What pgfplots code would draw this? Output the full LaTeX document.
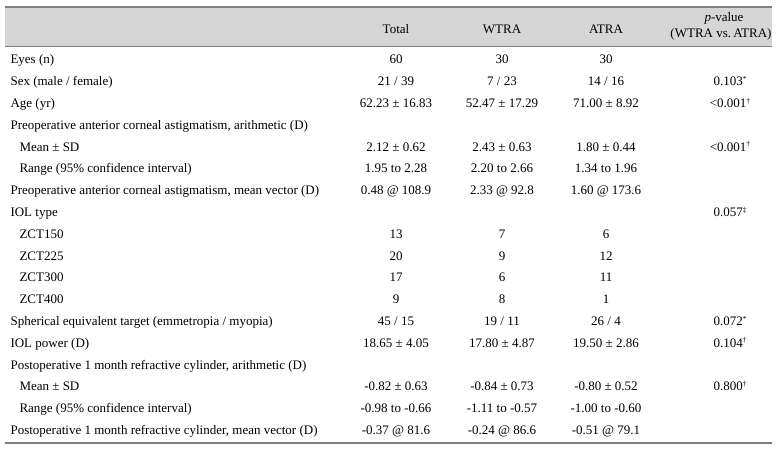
\documentclass[border=0pt]{standalone}
\usepackage{fontspec}
\setmainfont{Liberation Serif}
\usepackage{pgfplots}
\pgfplotsset{compat=1.18}
\definecolor{band}{HTML}{D6D6D6}
\definecolor{rule}{HTML}{808080}
\definecolor{ink}{HTML}{231F20}
\newcommand{\supmark}[1]{\raisebox{0.75ex}{\fontsize{7.5bp}{8bp}\selectfont #1}}
\newcommand{\sa}{\supmark{*}}
\newcommand{\sd}{\supmark{†}}
\newcommand{\sdd}{\supmark{‡}}
\begin{document}
\fontsize{13bp}{15bp}\selectfont
\begin{tikzpicture}[font=\fontsize{13bp}{15bp}\selectfont]
\begin{axis}[width=779bp, height=450bp, scale only axis,
  xmin=0, xmax=779, ymin=0, ymax=450, y dir=reverse,
  axis lines=none, ticks=none, clip=false,
  every node/.append style={inner sep=0pt, text=ink}]
\addplot[draw=none] coordinates {(0,0) (779,450)};
\addplot[draw=none, fill=band] coordinates {(5,7) (772,7) (772,47) (5,47)} -- cycle;
\addplot[rule, line width=1.4bp] coordinates {(5,7) (772,7)};
\addplot[rule, line width=1bp] coordinates {(5,47) (772,47)};
\addplot[rule, line width=1.4bp] coordinates {(5,443) (772,443)};
% header
\node[anchor=base] at (axis cs:396,33.5) {Total};
\node[anchor=base] at (axis cs:502,33.5) {WTRA};
\node[anchor=base] at (axis cs:606,33.5) {ATRA};
\node[anchor=base] at (axis cs:724,22) {\textit{p}-value};
\node[anchor=base] at (axis cs:721,38) {(WTRA vs.\,ATRA)};
% left column
\node[anchor=base west] at (axis cs:6,64) {Eyes (n)};
\node[anchor=base west] at (axis cs:6,85.8) {Sex (male / female)};
\node[anchor=base west] at (axis cs:6,107.6) {Age (yr)};
\node[anchor=base west] at (axis cs:6,129.4) {Preoperative anterior corneal astigmatism, arithmetic (D)};
\node[anchor=base west] at (axis cs:15,151.2) {Mean ± SD};
\node[anchor=base west] at (axis cs:15,173) {Range (95\% confidence interval)};
\node[anchor=base west] at (axis cs:6,194.8) {Preoperative anterior corneal astigmatism, mean vector (D)};
\node[anchor=base west] at (axis cs:6,216.6) {IOL type};
\node[anchor=base west] at (axis cs:15,238.4) {ZCT150};
\node[anchor=base west] at (axis cs:15,260.2) {ZCT225};
\node[anchor=base west] at (axis cs:15,282) {ZCT300};
\node[anchor=base west] at (axis cs:15,303.8) {ZCT400};
\node[anchor=base west] at (axis cs:6,325.6) {Spherical equivalent target (emmetropia / myopia)};
\node[anchor=base west] at (axis cs:6,347.4) {IOL power (D)};
\node[anchor=base west] at (axis cs:6,369.2) {Postoperative 1 month refractive cylinder, arithmetic (D)};
\node[anchor=base west] at (axis cs:15,391) {Mean ± SD};
\node[anchor=base west] at (axis cs:15,412.8) {Range (95\% confidence interval)};
\node[anchor=base west] at (axis cs:6,434.6) {Postoperative 1 month refractive cylinder, mean vector (D)};
% Total
\node[anchor=base] at (axis cs:396,64) {60};
\node[anchor=base] at (axis cs:396,85.8) {21 / 39};
\node[anchor=base] at (axis cs:396,107.6) {62.23 ± 16.83};
\node[anchor=base] at (axis cs:396,151.2) {2.12 ± 0.62};
\node[anchor=base] at (axis cs:396,173) {1.95 to 2.28};
\node[anchor=base] at (axis cs:396,194.8) {0.48 @ 108.9};
\node[anchor=base] at (axis cs:396,238.4) {13};
\node[anchor=base] at (axis cs:396,260.2) {20};
\node[anchor=base] at (axis cs:396,282) {17};
\node[anchor=base] at (axis cs:396,303.8) {9};
\node[anchor=base] at (axis cs:396,325.6) {45 / 15};
\node[anchor=base] at (axis cs:396,347.4) {18.65 ± 4.05};
\node[anchor=base] at (axis cs:396,391) {-0.82 ± 0.63};
\node[anchor=base] at (axis cs:396,412.8) {-0.98 to -0.66};
\node[anchor=base] at (axis cs:396,434.6) {-0.37 @ 81.6};
% WTRA
\node[anchor=base] at (axis cs:502,64) {30};
\node[anchor=base] at (axis cs:502,85.8) {7 / 23};
\node[anchor=base] at (axis cs:502,107.6) {52.47 ± 17.29};
\node[anchor=base] at (axis cs:502,151.2) {2.43 ± 0.63};
\node[anchor=base] at (axis cs:502,173) {2.20 to 2.66};
\node[anchor=base] at (axis cs:502,194.8) {2.33 @ 92.8};
\node[anchor=base] at (axis cs:502,238.4) {7};
\node[anchor=base] at (axis cs:502,260.2) {9};
\node[anchor=base] at (axis cs:502,282) {6};
\node[anchor=base] at (axis cs:502,303.8) {8};
\node[anchor=base] at (axis cs:502,325.6) {19 / 11};
\node[anchor=base] at (axis cs:502,347.4) {17.80 ± 4.87};
\node[anchor=base] at (axis cs:502,391) {-0.84 ± 0.73};
\node[anchor=base] at (axis cs:502,412.8) {-1.11 to -0.57};
\node[anchor=base] at (axis cs:502,434.6) {-0.24 @ 86.6};
% ATRA
\node[anchor=base] at (axis cs:606,64) {30};
\node[anchor=base] at (axis cs:606,85.8) {14 / 16};
\node[anchor=base] at (axis cs:606,107.6) {71.00 ± 8.92};
\node[anchor=base] at (axis cs:606,151.2) {1.80 ± 0.44};
\node[anchor=base] at (axis cs:606,173) {1.34 to 1.96};
\node[anchor=base] at (axis cs:606,194.8) {1.60 @ 173.6};
\node[anchor=base] at (axis cs:606,238.4) {6};
\node[anchor=base] at (axis cs:606,260.2) {12};
\node[anchor=base] at (axis cs:606,282) {11};
\node[anchor=base] at (axis cs:606,303.8) {1};
\node[anchor=base] at (axis cs:606,325.6) {26 / 4};
\node[anchor=base] at (axis cs:606,347.4) {19.50 ± 2.86};
\node[anchor=base] at (axis cs:606,391) {-0.80 ± 0.52};
\node[anchor=base] at (axis cs:606,412.8) {-1.00 to -0.60};
\node[anchor=base] at (axis cs:606,434.6) {-0.51 @ 79.1};
% p-values
\node[anchor=base] at (axis cs:730,85.8) {0.103\sa};
\node[anchor=base] at (axis cs:730,107.6) {<0.001\sd};
\node[anchor=base] at (axis cs:730,151.2) {<0.001\sd};
\node[anchor=base] at (axis cs:730,216.6) {0.057\sdd};
\node[anchor=base] at (axis cs:730,325.6) {0.072\sa};
\node[anchor=base] at (axis cs:730,347.4) {0.104\sd};
\node[anchor=base] at (axis cs:730,391) {0.800\sd};
\end{axis}
\end{tikzpicture}
\end{document}
